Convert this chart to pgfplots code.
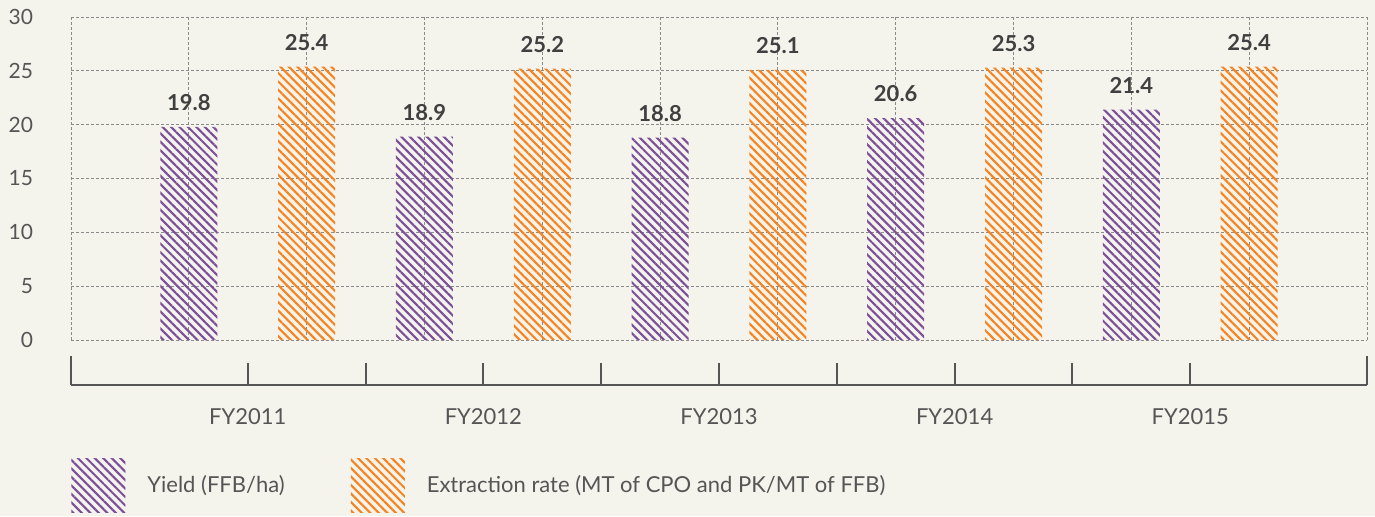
\documentclass[border=0pt]{standalone}
\usepackage{pgfplots}
\pgfplotsset{compat=1.18}
\usepackage{fontspec}
\setmainfont{Lato}
\usetikzlibrary{patterns.meta}
\definecolor{bgc}{HTML}{F5F4EC}
\definecolor{purp}{HTML}{7B4E99}
\definecolor{oran}{HTML}{F7821E}
\definecolor{txt}{HTML}{555555}
\definecolor{dtxt}{HTML}{404040}
\definecolor{gridc}{HTML}{8A8A8A}
\begin{document}
\begin{tikzpicture}
\fill[bgc] (0,0) rectangle (687.5pt,258pt);
\path[use as bounding box] (0,0) rectangle (687.5pt,258pt);
\begin{axis}[
  at={(35.5pt,88pt)}, anchor=south west,
  width=648pt, height=161.5pt, scale only axis,
  xmin=0, xmax=11, ymin=0, ymax=30,
  axis line style={draw=none},
  tick style={draw=none},
  xtick={0,1,...,11}, ytick={0,5,...,30},
  grid=major,
  major grid style={gridc, line width=0.5pt, dash pattern=on 1.5pt off 1pt},
  clip=false,
  xticklabels={},
  yticklabel style={font=\fontsize{10.5}{12}\selectfont, text=txt, anchor=east},
  yticklabel shift=15.5pt,
  /pgf/number format/assume math mode=true,
  ybar, bar width=28.5pt, bar shift=0pt,
  nodes near coords={\textbf{\pgfmathprintnumber[assume math mode=true,fixed,fixed zerofill,precision=1]{\pgfplotspointmeta}}},
  nodes near coords style={font=\fontsize{11}{13}\selectfont, text=dtxt, anchor=south, yshift=4.5pt},
  legend style={at={(0,-0.449)}, anchor=west, draw=none, fill=none, inner sep=0pt,
    font=\fontsize{11}{13}\selectfont, text=txt,
    legend columns=2,
    /tikz/every even column/.append style={column sep=33pt},
    nodes={inner sep=0pt}},
  legend cell align=left,
  legend image code/.code={\path[#1] (0pt,-13.5pt) rectangle (27pt,13.5pt);},
]
\addplot[draw=none, pattern={Lines[angle=-45,distance=3pt,line width=1.05pt]}, pattern color=purp]
  coordinates {(1,19.8) (3,18.9) (5,18.8) (7,20.6) (9,21.4)};
\addlegendentry{\hspace{11pt}Yield (FFB/ha)}
\addplot[draw=none, pattern={Lines[angle=-45,distance=3pt,line width=1.05pt]}, pattern color=oran]
  coordinates {(2,25.4) (4,25.2) (6,25.1) (8,25.3) (10,25.4)};
\addlegendentry{\hspace{11pt}Extraction rate (MT of CPO and PK/MT of FFB)}
\end{axis}
\begin{axis}[
  at={(35.5pt,65.5pt)}, anchor=south west,
  width=648pt, height=20pt, scale only axis,
  xmin=0, xmax=11, ymin=0, ymax=1,
  axis x line*=bottom, axis y line=none,
  axis line style={txt, line width=1.3pt},
  xtick={1.5,2.5,...,9.5},
  xticklabels={FY2011,,FY2012,,FY2013,,FY2014,,FY2015},
  tick align=inside,
  major tick length=11pt,
  x tick style={txt, line width=1pt},
  extra x ticks={0,11},
  extra x tick labels={},
  extra x tick style={major tick length=14.5pt, tick style={line width=1.5pt}},
  xticklabel style={font=\fontsize{11}{13}\selectfont, text=txt},
  xticklabel shift=8pt,
]
\addplot[draw=none] coordinates {(0,0)};
\end{axis}
\end{tikzpicture}
\end{document}
